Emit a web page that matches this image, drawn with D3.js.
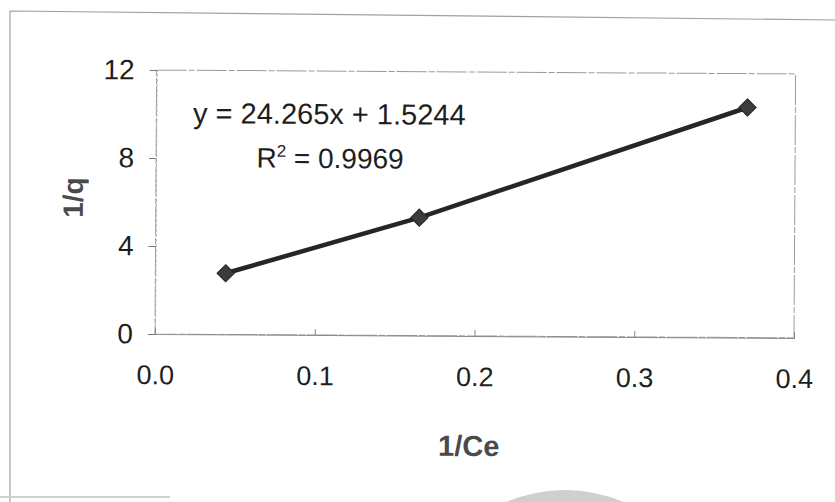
<!DOCTYPE html>
<html>
<head>
<meta charset="utf-8">
<script src="https://cdn.jsdelivr.net/npm/d3@7"></script>
<style>
  body { margin: 0; background: #fff; }
  svg { font-family: "Liberation Sans", Arial, sans-serif; }
</style>
</head>
<body>
<div id="chart"></div>
<script>
"use strict";

// data
var xValues = [0.044, 0.165, 0.37];
var yValues = [2.78, 5.36, 10.46];
var eqLabel = "y = 24.265x + 1.5244";
var r2Value = "0.9969";
var xTicks = [0, 0.1, 0.2, 0.3, 0.4];
var yTicks = [0, 4, 8, 12];

var W = 835, H = 502;
var margin = {top: 70, right: 41, bottom: 168, left: 155},
    width = W - margin.left - margin.right,
    height = H - margin.top - margin.bottom;

var svg = d3.select("#chart").append("svg")
    .attr("width", W).attr("height", H);

// outer chart frame (scanned, slightly skewed)
svg.append("path")
    .attr("d", "M10,502 L10,11 L835,20")
    .attr("fill", "none")
    .attr("stroke", "#a0a0a0")
    .attr("stroke-width", 1.2);

// scan artefacts at the bottom
svg.append("circle")
    .attr("cx", 565).attr("cy", 640).attr("r", 150)
    .attr("fill", "#cfcfcf");
svg.append("line")
    .attr("x1", 0).attr("x2", 170).attr("y1", 497).attr("y2", 497)
    .attr("stroke", "#d0d0d0").attr("stroke-width", 2);

var xScale = d3.scaleLinear().domain([0, 0.4]).range([0, width]);
var yScale = d3.scaleLinear().domain([0, 12]).range([height, 0]);

// whole chart is rotated a touch, like the scan
var root = svg.append("g")
    .attr("transform", "rotate(0.35," + margin.left + "," + (margin.top + height) + ")");
var g = root.append("g")
    .attr("transform", "translate(" + margin.left + "," + margin.top + ")");

// plot area border
g.append("rect")
    .attr("width", width).attr("height", height)
    .attr("fill", "none")
    .attr("stroke", "#9a9a9a")
    .attr("stroke-width", 1)
    .attr("stroke-dasharray", "30,2,6,2");

// y axis
var yAxis = d3.axisLeft(yScale).tickValues(yTicks).tickSize(7).tickPadding(15)
    .tickFormat(d3.format("d"));
var ya = g.append("g").call(yAxis);
ya.select(".domain").attr("stroke", "#b0b0b0").attr("stroke-dasharray", "3,2");
ya.selectAll(".tick line").attr("stroke", "#777");
ya.selectAll("text").attr("font-size", 28).attr("fill", "#1e1e1e")
    .attr("font-family", "Liberation Sans, Arial, sans-serif");

// x axis
var xAxis = d3.axisBottom(xScale).tickValues(xTicks).tickSize(-6).tickPadding(31)
    .tickFormat(d3.format(".1f"));
var xa = g.append("g")
    .attr("transform", "translate(0," + height + ")")
    .call(xAxis);
xa.select(".domain").attr("stroke", "#8a8a8a");
xa.selectAll(".tick line").attr("stroke", "#888");
xa.selectAll("text").attr("font-size", 27).attr("fill", "#1e1e1e")
    .attr("font-family", "Liberation Sans, Arial, sans-serif");

// axis titles
root.append("text")
    .attr("transform", "translate(82," + (margin.top + height / 2 - 4) + ") rotate(-90)")
    .attr("text-anchor", "middle")
    .attr("font-size", 28).attr("font-weight", "bold").attr("fill", "#4a4a4a")
    .text("1/q");
root.append("text")
    .attr("x", margin.left + width / 2 - 5).attr("y", 454)
    .attr("text-anchor", "middle")
    .attr("font-size", 29).attr("font-weight", "bold").attr("fill", "#4a4a4a")
    .text("1/Ce");

var pts = xValues.map(function(x, i) { return [x, yValues[i]]; });

var line = d3.line()
    .x(function(d) { return xScale(d[0]); })
    .y(function(d) { return yScale(d[1]); });

g.append("path").datum(pts)
    .attr("d", line)
    .attr("fill", "none")
    .attr("stroke", "#262626")
    .attr("stroke-width", 4.5);

// diamond markers
g.selectAll(".pt").data(pts).enter().append("path")
    .attr("class", "pt")
    .attr("transform", function(d) { return "translate(" + xScale(d[0]) + "," + yScale(d[1]) + ")"; })
    .attr("d", d3.symbol().type(d3.symbolDiamond2).size(190))
    .attr("fill", "#3c3c3c")
    .attr("stroke", "#222")
    .attr("stroke-width", 1);

// equation label
root.append("text")
    .attr("x", 328).attr("y", 123)
    .attr("font-size", 29).attr("fill", "#1e1e1e")
    .attr("text-anchor", "middle")
    .text(eqLabel);
var r2 = root.append("text")
    .attr("x", 329).attr("y", 167)
    .attr("font-size", 28).attr("fill", "#1e1e1e")
    .attr("text-anchor", "middle");
r2.append("tspan").text("R");
r2.append("tspan").attr("font-size", 17).attr("dy", -11).text("2");
r2.append("tspan").attr("dy", 11).text(" = " + r2Value);
</script>
</body>
</html>
